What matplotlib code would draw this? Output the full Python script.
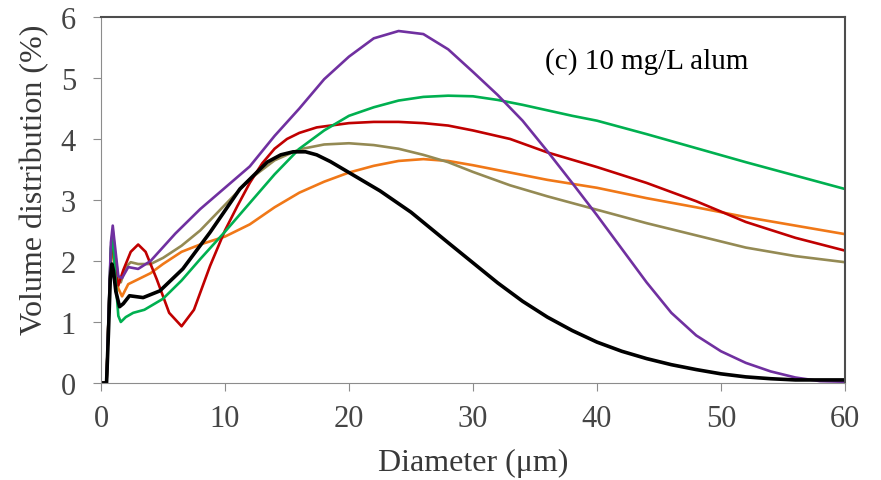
import numpy as np
import matplotlib.pyplot as plt

#Data (diameter in um, volume distribution in %)
purple_x = [0, 0.45, 0.6, 0.8, 0.95, 1.1, 1.4, 1.7, 2.2, 3, 4, 6, 8, 10, 12, 14, 16, 18, 20, 22, 24, 26, 28, 30, 32, 34, 36, 38, 40, 42, 44, 46, 48, 50, 52, 54, 56, 58, 60]
purple_y = [0, 0, 1.0, 2.3, 2.58, 2.3, 1.75, 1.72, 1.9, 1.87, 2.0, 2.45, 2.85, 3.2, 3.55, 4.05, 4.5, 4.98, 5.35, 5.65, 5.77, 5.72, 5.47, 5.1, 4.72, 4.3, 3.8, 3.28, 2.75, 2.2, 1.65, 1.15, 0.78, 0.52, 0.33, 0.19, 0.09, 0.03, 0.02]

green_x = [0, 0.45, 0.6, 0.8, 0.95, 1.1, 1.4, 1.6, 2, 2.6, 3.5, 5, 6.5, 8, 10, 12, 14, 16, 18, 20, 22, 24, 26, 28, 30, 32, 34, 36, 38, 40, 44, 48, 52, 56, 60]
green_y = [0, 0, 1.0, 2.2, 2.45, 1.9, 1.1, 1.0, 1.08, 1.15, 1.2, 1.38, 1.68, 2.03, 2.48, 2.95, 3.42, 3.84, 4.14, 4.38, 4.52, 4.63, 4.69, 4.71, 4.7, 4.64, 4.56, 4.47, 4.38, 4.3, 4.08, 3.85, 3.62, 3.4, 3.18]

red_x = [0, 0.45, 0.6, 0.8, 0.95, 1.1, 1.4, 1.8, 2.4, 3, 3.6, 4.5, 5.5, 6.5, 7.5, 8.8, 10, 11, 12, 13, 14, 15, 16, 17.4, 20, 22, 24, 26, 28, 30, 33, 36, 40, 44, 48, 52, 56, 60]
red_y = [0, 0, 1.0, 2.1, 2.35, 1.9, 1.6, 1.85, 2.15, 2.27, 2.15, 1.7, 1.15, 0.93, 1.2, 1.92, 2.5, 2.9, 3.28, 3.6, 3.84, 4.0, 4.1, 4.19, 4.26, 4.28, 4.28, 4.26, 4.22, 4.14, 4.0, 3.78, 3.54, 3.28, 2.98, 2.64, 2.38, 2.17]

orange_x = [0, 0.45, 0.6, 0.8, 0.95, 1.1, 1.4, 1.7, 2.2, 3, 4, 5, 6.5, 8, 10, 12, 14, 16, 18, 20, 22, 24, 26, 28, 30, 33, 36, 40, 44, 48, 52, 56, 60]
orange_y = [0, 0, 1.0, 2.0, 2.3, 1.9, 1.55, 1.42, 1.62, 1.7, 1.8, 1.95, 2.15, 2.27, 2.4, 2.6, 2.88, 3.12, 3.3, 3.45, 3.56, 3.64, 3.67, 3.64, 3.57, 3.45, 3.33, 3.2, 3.03, 2.88, 2.72, 2.58, 2.44]

olive_x = [0, 0.45, 0.6, 0.8, 0.95, 1.1, 1.4, 1.6, 2, 2.4, 3, 4, 5, 6.5, 8, 10, 12, 14, 16, 18, 20, 22, 24, 26, 28, 30, 33, 36, 40, 44, 48, 52, 56, 60]
olive_y = [0, 0, 1.0, 2.2, 2.5, 2.2, 1.7, 1.65, 1.9, 1.98, 1.95, 1.95, 2.05, 2.25, 2.5, 2.92, 3.34, 3.65, 3.83, 3.91, 3.93, 3.9, 3.84, 3.74, 3.62, 3.46, 3.24, 3.06, 2.84, 2.62, 2.42, 2.22, 2.08, 1.98]

black_x = [0, 0.45, 0.6, 0.75, 0.88, 1.0, 1.2, 1.5, 1.8, 2.3, 3.4, 4.75, 6.6, 8.8, 11.2, 13.4, 14.5, 15.5, 16.5, 17.4, 18.5, 20, 22.5, 25, 28, 30, 32, 34, 36, 38, 40, 42, 44, 46, 48, 50, 52, 54, 56, 58, 60]
black_y = [0, 0, 0.8, 1.7, 1.95, 1.85, 1.5, 1.25, 1.3, 1.43, 1.4, 1.51, 1.87, 2.47, 3.18, 3.62, 3.74, 3.79, 3.79, 3.74, 3.63, 3.45, 3.15, 2.8, 2.3, 1.97, 1.64, 1.34, 1.08, 0.86, 0.67, 0.52, 0.4, 0.3, 0.22, 0.15, 0.1, 0.07, 0.05, 0.05, 0.05]

plt.rcParams['font.family'] = ['Liberation Serif', 'DejaVu Serif']

fig = plt.figure(figsize=(8.81, 4.81), dpi=100)
ax = fig.add_axes([0.1146, 0.2017, 0.8445, 0.7609])

ax.plot(orange_x, orange_y, color="#F07818", lw=1.9)
ax.plot(olive_x, olive_y, color="#948A54", lw=1.9)
ax.plot(red_x, red_y, color="#C00000", lw=1.9)
ax.plot(green_x, green_y, color="#00B050", lw=1.9)
ax.plot(purple_x, purple_y, color="#7030A0", lw=1.9)
ax.plot(black_x, black_y, color="black", lw=2.6)

ax.set_xlim(0, 60)
ax.set_ylim(0, 6)
ax.set_xticks(np.arange(0, 61, 10))
ax.set_yticks(np.arange(0, 7, 1))

for side in ["left", "bottom"]:
	ax.spines[side].set_color("#8c8c8c")
for side in ["top", "right"]:
	ax.spines[side].set_color("#4d4d4d")
	ax.spines[side].set_linewidth(1.5)

ax.tick_params(direction="out", length=6, color="#8c8c8c", labelsize=22, labelcolor="#454545")
ax.tick_params(axis="y", pad=12)
ax.tick_params(axis="x", pad=9)

ax.set_xlabel("Diameter (\u03bcm)", fontsize=23, color="#383838", labelpad=11)
ax.set_ylabel("Volume distribution (%)", fontsize=23, color="#383838")
ax.yaxis.set_label_coords(-0.07, 0.557)

ax.text(35.8, 5.28, "(c) 10 mg/L alum", fontsize=21, ha="left", va="center")

fig.savefig("out.png", dpi=100)
